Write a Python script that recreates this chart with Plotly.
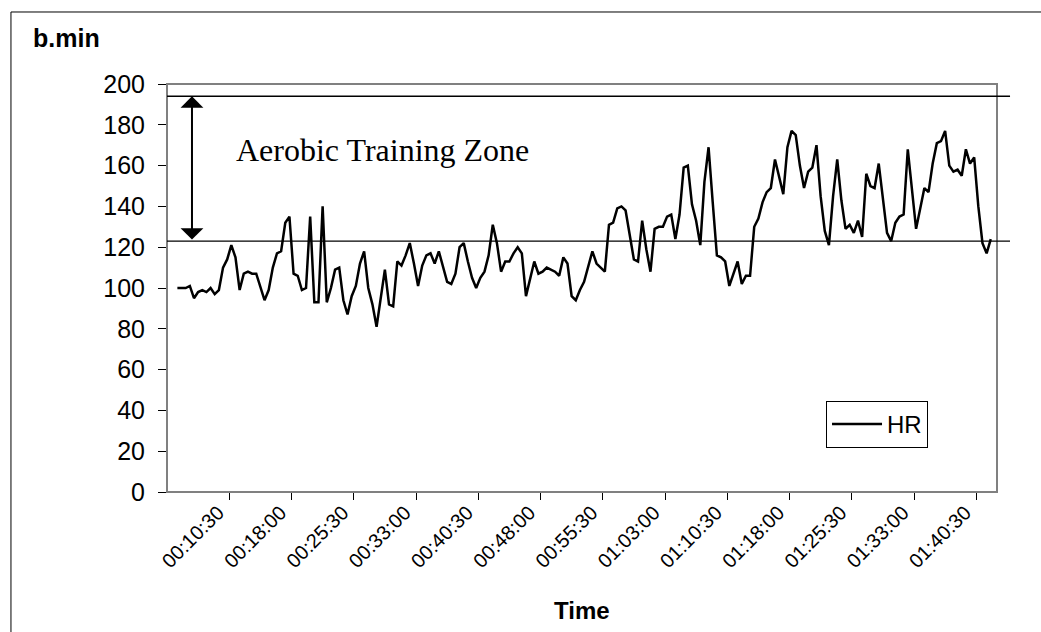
import plotly.graph_objects as go

# Heart rate (b.min) sampled every 30 s, starting at 00:04:00
start_sec = 240
step_sec = 30
hr = [
    100, 100, 100, 101, 95, 98, 99, 98, 100, 97,
    99, 110, 114, 121, 115, 99, 107, 108, 107, 107,
    100, 94, 99, 110, 117, 118, 132, 135, 107, 106,
    99, 100, 135, 93, 93, 140, 93, 100, 109, 110,
    94, 87, 96, 101, 112, 118, 100, 92, 81, 95,
    109, 92, 91, 113, 111, 116, 122, 112, 101, 111,
    116, 117, 112, 118, 111, 103, 102, 107, 120, 122,
    113, 105, 100, 105, 108, 116, 131, 122, 108, 113,
    113, 117, 120, 117, 96, 104, 113, 107, 108, 110,
    109, 108, 106, 115, 112, 96, 94, 99, 103, 111,
    118, 112, 110, 108, 131, 132, 139, 140, 138, 125,
    114, 113, 133, 119, 108, 129, 130, 130, 135, 136,
    124, 136, 159, 160, 141, 133, 121, 152, 169, 142,
    116, 115, 113, 101, 107, 113, 102, 106, 106, 130,
    134, 142, 147, 149, 163, 154, 146, 169, 177, 175,
    160, 149, 157, 159, 170, 145, 128, 121, 145, 163,
    143, 129, 131, 127, 133, 125, 156, 150, 149, 161,
    143, 127, 123, 132, 135, 136, 168, 148, 129, 139,
    149, 147, 161, 171, 172, 177, 160, 157, 158, 155,
    168, 161, 164, 140, 122, 117, 124,
]
times = [start_sec + step_sec * i for i in range(len(hr))]

tick_labels = ["00:10:30", "00:18:00", "00:25:30", "00:33:00", "00:40:30",
               "00:48:00", "00:55:30", "01:03:00", "01:10:30", "01:18:00",
               "01:25:30", "01:33:00", "01:40:30"]

zone_upper = 194
zone_lower = 123
zone_label = "Aerobic Training Zone"


def to_sec(s):
    h, m, sec = (int(p) for p in s.split(":"))
    return h * 3600 + m * 60 + sec


# Excel-style: tick marks between categories, labels sitting just left of them
tick_marks = [to_sec(t) - step_sec / 2 for t in tick_labels]
label_pos = [to_sec(t) - 95 for t in tick_labels]
x_range = [180 - step_sec / 2, 180 + 199 * step_sec + step_sec / 2]

SANS = "Liberation Sans, Arial, sans-serif"
SERIF = "Liberation Serif, Times New Roman, serif"

PLOT_H = 632 - 84 - 140

fig = go.Figure()
fig.add_trace(go.Scatter(
    x=times, y=hr, mode="lines", name="HR",
    line=dict(color="black", width=2.5),
))

fig.update_layout(
    width=1041, height=632,
    margin=dict(l=167, r=44, t=84, b=140),
    paper_bgcolor="white", plot_bgcolor="white",
    showlegend=True,
    legend=dict(x=0.794, y=0.223, xanchor="left", yanchor="top",
                bgcolor="white", bordercolor="black", borderwidth=1,
                itemwidth=50,
                font=dict(family=SANS, size=24, color="black")),
    xaxis=dict(range=x_range, tickmode="array", tickvals=label_pos,
               ticktext=tick_labels, tickangle=-45, showgrid=False,
               zeroline=False, showline=True, linecolor="black", linewidth=1,
               ticks="", ticklen=7,
               minor=dict(tickmode="array", tickvals=tick_marks,
                          ticks="outside", ticklen=7, tickcolor="black",
                          showgrid=False),
               tickfont=dict(family=SANS, size=20, color="black")),
    yaxis=dict(range=[0, 200], dtick=20, showgrid=False, zeroline=False,
               showline=True, linecolor="black", linewidth=1,
               ticks="outside", ticklen=8, tickcolor="black",
               ticklabelstandoff=8,
               tickfont=dict(family=SANS, size=25, color="black")),
)

shapes = [
    # outer chart border: top and left edges (others fall outside the image)
    dict(type="line", xref="paper", yref="paper", x0=-0.188, x1=1.1,
         y0=1.1765, y1=1.1765, line=dict(color="black", width=1)),
    dict(type="line", xref="paper", yref="paper", x0=-0.188, x1=-0.188,
         y0=-0.45, y1=1.1765, line=dict(color="black", width=1)),
    # plot area border
    dict(type="rect", xref="paper", yref="paper", x0=0, x1=1, y0=0, y1=1,
         line=dict(color="#808080", width=2)),
    # zone lines
    dict(type="line", xref="paper", yref="y", x0=0, x1=1.0157,
         y0=zone_upper, y1=zone_upper, line=dict(color="black", width=1.3)),
    dict(type="line", xref="paper", yref="y", x0=0, x1=1.0157,
         y0=zone_lower, y1=zone_lower, line=dict(color="black", width=1.3)),
]
fig.update_layout(shapes=shapes)

fig.add_annotation(
    x=0.0301, y=zone_upper, xref="paper", yref="y",
    ax=0, ay=(zone_upper - zone_lower) * PLOT_H / 200,
    axref="pixel", ayref="pixel",
    showarrow=True, arrowhead=1, arrowside="end+start",
    arrowsize=1.9, arrowwidth=2, arrowcolor="black", text="",
)
fig.add_annotation(
    x=(234 - 167) / 830, y=(492 - 150) / 408, xref="paper", yref="paper",
    xanchor="left", yanchor="middle", showarrow=False,
    text=zone_label, font=dict(family=SERIF, size=32, color="black"),
)
fig.add_annotation(
    x=(31 - 167) / 830, y=(492 - 38) / 408, xref="paper", yref="paper",
    xanchor="left", yanchor="middle", showarrow=False,
    text="<b>b.min</b>", font=dict(family=SANS, size=25, color="black"),
)
fig.add_annotation(
    x=0.5, y=(492 - 610) / 408, xref="paper", yref="paper",
    xanchor="center", yanchor="middle", showarrow=False,
    text="<b>Time</b>", font=dict(family=SANS, size=24, color="black"),
)

fig.write_html("out.html")
